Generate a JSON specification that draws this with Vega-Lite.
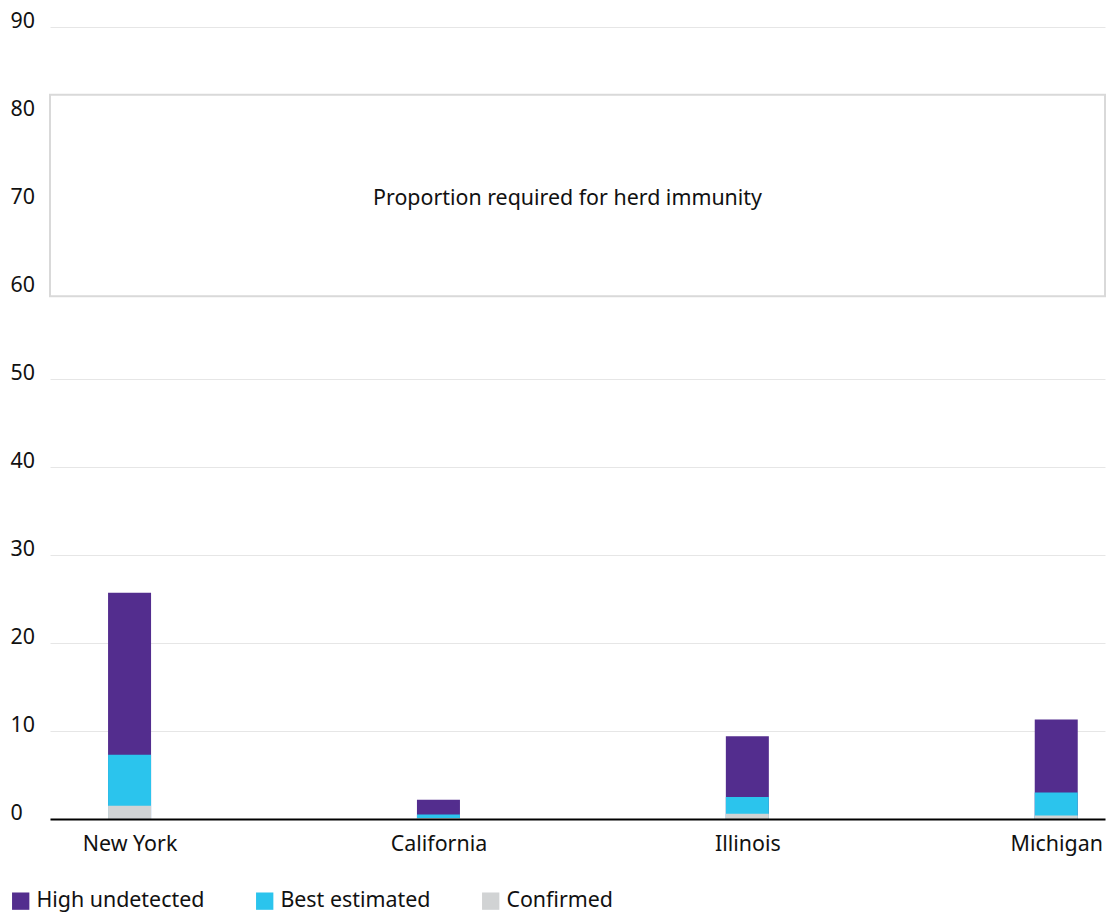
{
  "$schema": "https://vega.github.io/schema/vega-lite/v6.json",
  "autosize": "none",
  "width": 1055,
  "height": 792,
  "padding": {"left": 50, "top": 27, "right": 2, "bottom": 94},
  "background": "white",
  "config": {
    "font": "Noto Sans",
    "view": {"stroke": null},
    "axis": {"labelFont": "Noto Sans", "labelFontSize": 21.4, "labelColor": "#111111"},
    "legend": {"labelFont": "Noto Sans", "labelFontSize": 21.4, "labelColor": "#111111", "labelLimit": 400}
  },
  "datasets": {
    "bars": [
      {"state": "New York", "series": "High undetected", "value": 25.7},
      {"state": "California", "series": "High undetected", "value": 2.2},
      {"state": "Illinois", "series": "High undetected", "value": 9.4},
      {"state": "Michigan", "series": "High undetected", "value": 11.3},
      {"state": "New York", "series": "Best estimated", "value": 7.3},
      {"state": "California", "series": "Best estimated", "value": 0.5},
      {"state": "Illinois", "series": "Best estimated", "value": 2.5},
      {"state": "Michigan", "series": "Best estimated", "value": 3.0},
      {"state": "New York", "series": "Confirmed", "value": 1.5},
      {"state": "California", "series": "Confirmed", "value": 0.1},
      {"state": "Illinois", "series": "Confirmed", "value": 0.6},
      {"state": "Michigan", "series": "Confirmed", "value": 0.4}
    ],
    "band": [
      {"low": 59.4, "high": 82.3, "mid": 70.5, "label": "Proportion required for herd immunity"}
    ]
  },
  "layer": [
    {
      "data": {"name": "band"},
      "mark": {"type": "rect", "fill": "white", "stroke": "#d9d9d9", "strokeWidth": 2},
      "encoding": {
        "y": {"field": "low", "type": "quantitative", "scale": {"domain": [0, 90]}},
        "y2": {"field": "high"}
      }
    },
    {
      "data": {"name": "band"},
      "mark": {"type": "text", "fontSize": 21.4, "color": "#111111", "dx": -10, "baseline": "middle"},
      "encoding": {
        "y": {"field": "mid", "type": "quantitative"},
        "text": {"field": "label"}
      }
    },
    {
      "data": {"name": "bars"},
      "mark": {"type": "bar", "size": 43},
      "encoding": {
        "x": {
          "field": "state", "type": "nominal", "sort": ["New York", "California", "Illinois", "Michigan"],
          "scale": {"type": "point", "padding": 0.2077, "align": 0.62},
          "axis": {"title": null, "labelAngle": 0, "ticks": false, "labelPadding": 14, "domainColor": "#000000", "domainWidth": 2, "grid": false, "zindex": 1}
        },
        "y": {
          "field": "value", "type": "quantitative", "stack": null,
          "scale": {"domain": [0, 90], "nice": false},
          "axis": {"title": null, "values": [0, 10, 20, 30, 40, 50, 60, 70, 80, 90], "domain": false, "ticks": false, "labelAlign": "left", "labelBaseline": "alphabetic", "labelPadding": 40, "gridColor": "#e6e6e6", "gridWidth": 1}
        },
        "color": {
          "field": "series", "type": "nominal",
          "scale": {"domain": ["High undetected", "Best estimated", "Confirmed"], "range": ["#532D8E", "#2BC4ED", "#D1D3D4"]},
          "legend": {"title": null, "orient": "none", "direction": "horizontal", "legendX": -40, "legendY": 863, "symbolType": "square", "symbolSize": 300, "symbolStrokeWidth": 0, "labelOffset": 5, "columnPadding": 49}
        }
      }
    }
  ]
}
